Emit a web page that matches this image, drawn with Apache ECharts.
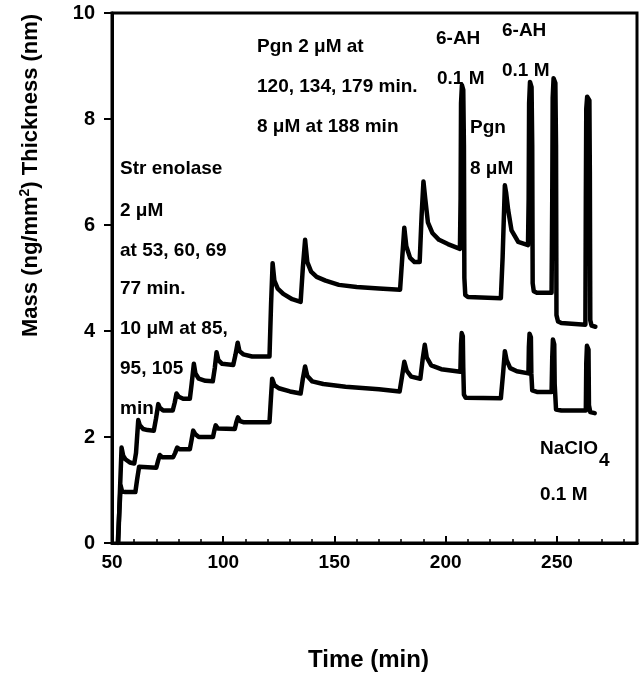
<!DOCTYPE html>
<html>
<head>
<meta charset="utf-8">
<title>Mass / thickness vs time</title>
<script src="https://cdn.jsdelivr.net/npm/echarts@6/dist/echarts.min.js"></script>
<style>
  html, body { margin: 0; padding: 0; background: #fff; }
  #chart { width: 640px; height: 676px; }
</style>
</head>
<body>
<div id="chart"></div>
<script>
// x tick labels (min)
var timeTicks = [50, 100, 150, 200, 250];
var massTicks = [0, 2, 4, 6, 8, 10];

// upper trace: [time (min), value]
var upperTrace = [
  [52.8, 0], [53.5, 0.9], [54.3, 1.8], [55, 1.65], [56, 1.58], [58, 1.52], [60, 1.5],
  [60.8, 1.7], [61.8, 2.32], [62.5, 2.22], [64, 2.15], [66, 2.13], [68.8, 2.12],
  [69.8, 2.35], [70.8, 2.62], [71.5, 2.55], [73, 2.5], [77.3, 2.5],
  [78.2, 2.65], [79, 2.82], [80, 2.76], [82, 2.72], [85, 2.72],
  [85.8, 3.0], [86.8, 3.38], [87.5, 3.2], [89, 3.1], [92, 3.06], [95.3, 3.05],
  [96.2, 3.3], [97, 3.6], [97.8, 3.45], [99.5, 3.38], [104.5, 3.36],
  [105.5, 3.55], [106.5, 3.78], [107.3, 3.62], [109, 3.56], [113, 3.52], [120.8, 3.52],
  [121.5, 4.5], [122.2, 5.28], [123, 4.95], [124.5, 4.8], [127, 4.7], [131, 4.6], [134.8, 4.55],
  [135.8, 5.2], [136.8, 5.72], [137.8, 5.3], [139.5, 5.12], [142, 5.02], [146, 4.95],
  [152, 4.87], [160, 4.83], [170, 4.8], [179.5, 4.78],
  [180.5, 5.4], [181.4, 5.95], [182.3, 5.6], [184, 5.38], [186, 5.3], [188.3, 5.3],
  [189.2, 6.2], [190, 6.82], [190.8, 6.5], [192, 6.05], [194, 5.85], [197, 5.72],
  [201, 5.64], [206.4, 5.55],
  [206.7, 6.5], [206.9, 8.3], [207.3, 8.64], [207.9, 8.55], [208.2, 7.5], [208.4, 5.0],
  [208.8, 4.68], [210, 4.64], [224.8, 4.62],
  [225.6, 5.4], [226.6, 6.75], [227.2, 6.6], [228.1, 6.28], [229.6, 5.9], [232.6, 5.68], [237.0, 5.62],
  [237.3, 6.5], [237.5, 8.3], [237.9, 8.7], [238.6, 8.6], [238.9, 7.5], [239.1, 4.9],
  [239.6, 4.75], [241, 4.72], [247.6, 4.72],
  [247.9, 6.5], [248.1, 8.4], [248.5, 8.77], [249.3, 8.68], [249.6, 7.5], [249.8, 4.3],
  [250.5, 4.18], [252, 4.15], [262.8, 4.12],
  [263.0, 6.5], [263.2, 8.2], [263.6, 8.42], [264.6, 8.35], [264.8, 7.0], [265.0, 4.2],
  [265.6, 4.1], [267.3, 4.08]
];

// lower trace
var lowerTrace = [
  [52.6, 0], [53.3, 0.6], [53.9, 1.08], [54.5, 0.98], [56, 0.96], [60.5, 0.96],
  [61.3, 1.2], [62.2, 1.44], [63, 1.42], [69.9, 1.42],
  [70.7, 1.55], [71.5, 1.66], [72.5, 1.62], [77.5, 1.62],
  [78.4, 1.7], [79.3, 1.8], [80.3, 1.77], [85, 1.77],
  [85.8, 1.95], [86.5, 2.12], [87.5, 2.05], [89, 2.0], [95.4, 2.0],
  [96, 2.12], [96.6, 2.22], [97.6, 2.16], [105.2, 2.15],
  [105.9, 2.28], [106.6, 2.37], [107.6, 2.3], [109, 2.28], [120.8, 2.28],
  [121.4, 2.7], [122, 3.1], [123, 2.98], [125, 2.92], [130, 2.86], [134.8, 2.82],
  [135.8, 3.1], [136.8, 3.33], [137.8, 3.15], [140, 3.05], [145, 3.0], [155, 2.95],
  [170, 2.9], [179.3, 2.86],
  [180.4, 3.15], [181.4, 3.42], [182.5, 3.25], [184.5, 3.14], [188.6, 3.1],
  [189.6, 3.45], [190.6, 3.74], [191.5, 3.5], [193.5, 3.35], [198, 3.28], [206.6, 3.23],
  [206.9, 3.75], [207.2, 3.96], [207.7, 3.9], [207.9, 3.3], [208.2, 2.8], [209, 2.74], [224.8, 2.73],
  [225.8, 3.2], [226.6, 3.62], [227.4, 3.45], [229, 3.3], [232, 3.24], [237.2, 3.2],
  [237.4, 3.7], [237.7, 3.95], [238.3, 3.88], [238.5, 3.2], [238.9, 2.88], [241, 2.85], [247.6, 2.85],
  [247.9, 3.5], [248.2, 3.84], [248.8, 3.75], [249.0, 3.0], [249.6, 2.52], [252, 2.5], [263.0, 2.5],
  [263.2, 3.4], [263.5, 3.72], [264.2, 3.65], [264.4, 2.6], [265.0, 2.47], [267, 2.45]
];

var FONT = 'Liberation Sans, Arial, sans-serif';

function note(x, y, text, extra) {
  return {
    type: 'text',
    left: x,
    top: y - 11,
    style: Object.assign({
      text: text,
      fill: '#000',
      font: 'bold 19px ' + FONT
    }, extra || {})
  };
}

var chart = echarts.init(document.getElementById('chart'));

var option = {
  animation: false,
  backgroundColor: '#fff',
  grid: {
    left: 112,
    right: 3,
    top: 13,
    bottom: 133,
    show: true,
    borderColor: '#000',
    borderWidth: 3
  },
  xAxis: {
    type: 'value',
    min: timeTicks[0],
    max: 286,
    interval: timeTicks[1] - timeTicks[0],
    axisLine: { lineStyle: { color: '#000', width: 3 } },
    axisTick: { inside: true, length: 7, lineStyle: { color: '#000', width: 2 } },
    minorTick: { show: true, splitNumber: 5, length: 4, lineStyle: { color: '#000', width: 1.5 } },
    axisLabel: {
      color: '#000', fontFamily: FONT, fontWeight: 'bold', fontSize: 19, margin: 10,
      showMaxLabel: false
    },
    splitLine: { show: false }
  },
  yAxis: {
    type: 'value',
    min: massTicks[0],
    max: massTicks[massTicks.length - 1],
    interval: 2,
    axisLine: { lineStyle: { color: '#000', width: 3 } },
    axisTick: { length: 8, lineStyle: { color: '#000', width: 2 } },
    axisLabel: { color: '#000', fontFamily: FONT, fontWeight: 'bold', fontSize: 20, margin: 17 },
    splitLine: { show: false }
  },
  series: [
    {
      type: 'line',
      data: upperTrace,
      showSymbol: false,
      lineStyle: { color: '#000', width: 4.5, join: 'round', cap: 'round' }
    },
    {
      type: 'line',
      data: lowerTrace,
      showSymbol: false,
      lineStyle: { color: '#000', width: 4.5, join: 'round', cap: 'round' }
    }
  ],
  graphic: [
    note(120, 170, 'Str enolase'),
    note(120, 212, '2 μM'),
    note(120, 252, 'at 53, 60, 69'),
    note(120, 290, '77 min.'),
    note(120, 330, '10 μM at 85,'),
    note(120, 370, '95, 105'),
    note(120, 410, 'min'),
    note(257, 48, 'Pgn 2 μM at'),
    note(257, 88, '120, 134, 179 min.'),
    note(257, 128, '8 μM at 188 min'),
    note(436, 40, '6-AH'),
    note(437, 80, '0.1 M'),
    note(502, 32, '6-AH'),
    note(502, 72, '0.1 M'),
    note(470, 129, 'Pgn'),
    note(470, 170, '8 μM'),
    note(540, 450, 'NaClO{sub|4}', {
      rich: { sub: { font: 'bold 19px ' + FONT, fill: '#000', padding: [24, 0, 0, 1] } }
    }),
    note(540, 496, '0.1 M'),
    {
      type: 'text',
      left: 308,
      top: 648,
      style: { text: 'Time (min)', fill: '#000', font: 'bold 24px ' + FONT }
    },
    {
      type: 'text',
      x: 18,
      y: 337,
      rotation: Math.PI / 2,
      style: {
        text: 'Mass (ng/mm{sup|2}) Thickness (nm)',
        fill: '#000',
        font: 'bold 22px ' + FONT,
        rich: { sup: { font: 'bold 14px ' + FONT, fill: '#000', padding: [0, 0, 12, 0] } }
      }
    }
  ]
};

chart.setOption(option);
</script>
</body>
</html>
